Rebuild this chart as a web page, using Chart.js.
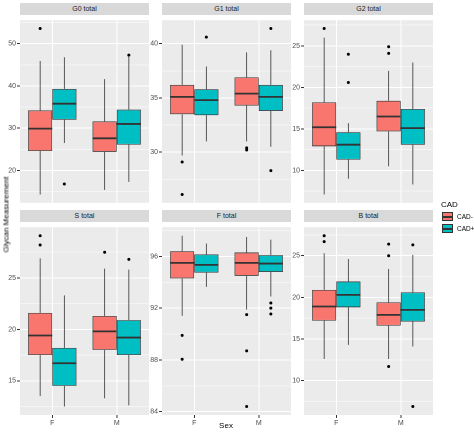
<!DOCTYPE html>
<html><head><meta charset="utf-8">
<script src="https://cdn.jsdelivr.net/npm/chart.js@4.4.0/dist/chart.umd.min.js"></script>
<style>
body{margin:0;width:474px;height:432px;background:#fff;position:relative;overflow:hidden;font-family:"Liberation Sans",Arial,sans-serif;}
canvas{position:absolute;}
.strip{position:absolute;background:#D9D9D9;color:#1A1A1A;font-size:7px;text-align:center;line-height:12px;height:12px;}
.t{position:absolute;color:#000;}
</style></head><body>
<script>
const categories = ['F','M'];
const seriesNames = ['CAD-','CAD+'];
const panelTitles = ['G0 total','G1 total','G2 total','S total','F total','B total'];
const tickSteps = [10,5,5,5,4,5];
// each box: [whiskerLow, q1, median, q3, whiskerHigh]; order F, M
const G0_neg = [[14.3,24.6,29.9,34.2,45.9],[15.4,24.4,27.6,31.6,41.6]];
const G0_pos = [[26.5,32.0,35.8,39.3,46.8],[17.3,26.1,31.0,34.4,46.9]];
const G0_out_neg = [[53.6],[]];
const G0_out_pos = [[16.8],[47.3]];
const G1_neg = [[29.7,33.5,35.1,36.2,39.9],[31.0,34.3,35.4,36.9,39.2]];
const G1_pos = [[31.0,33.4,34.8,35.8,37.9],[30.5,33.8,35.1,36.2,39.4]];
const G1_out_neg = [[29.1,26.1],[30.4,30.2]];
const G1_out_pos = [[40.6],[41.4,28.3]];
const G2_neg = [[7.1,12.9,15.2,18.2,26.0],[10.5,14.7,16.5,18.4,22.0]];
const G2_pos = [[9.0,11.3,13.1,14.6,15.7],[8.3,13.1,15.1,17.4,23.0]];
const G2_out_neg = [[27.1],[24.9,24.1]];
const G2_out_pos = [[24.0,20.6],[]];
const S_neg = [[13.5,17.5,19.4,21.6,26.9],[13.3,18.0,19.8,21.3,25.9]];
const S_pos = [[12.5,14.5,16.7,18.2,23.3],[12.6,17.5,19.2,20.9,25.8]];
const S_out_neg = [[29.1,28.2],[27.5]];
const S_out_pos = [[],[26.8]];
const F_neg = [[91.4,94.3,95.5,96.4,97.6],[91.9,94.5,95.5,96.3,97.5]];
const F_pos = [[93.65,94.75,95.35,96.15,97.0],[92.9,94.8,95.45,96.1,97.3]];
const F_out_neg = [[89.9,88.05],[91.5,88.7,84.4]];
const F_out_pos = [[],[92.4,92.0,91.55]];
const B_neg = [[12.6,17.2,18.9,20.9,25.3],[12.6,16.6,17.9,19.4,23.4]];
const B_pos = [[14.3,18.8,20.3,21.9,24.6],[14.1,17.1,18.5,20.6,25.1]];
const B_out_neg = [[27.4,26.7],[26.4,25.0,11.7]];
const B_out_pos = [[],[26.3,6.9]];

const panels = [
 [G0_neg,G0_pos,G0_out_neg,G0_out_pos],[G1_neg,G1_pos,G1_out_neg,G1_out_pos],[G2_neg,G2_pos,G2_out_neg,G2_out_pos],
 [S_neg,S_pos,S_out_neg,S_out_pos],[F_neg,F_pos,F_out_neg,F_out_pos],[B_neg,B_pos,B_out_neg,B_out_pos]];
const colors = ['#F8766D','#00BFC4'];
const colL = [20,162,304], plotW = 129, axW = 16;
const rowT = [15,222], plotH = 193, xAxH = 13;

const boxPlugin = {
 id:'box',
 afterDatasetsDraw(chart,args,opts){
  const ctx = chart.ctx, y = chart.scales.y, p = opts.panel;
  if(!p) return;
  ctx.save();
  [0,1].forEach(di=>{
   const meta = chart.getDatasetMeta(di);
   const stats = p[di], outs = p[di+2];
   meta.data.forEach((bar,i)=>{
    const s = stats[i], x = bar.x, hw = bar.width/2;
    ctx.strokeStyle='#333'; ctx.lineWidth=0.8;
    ctx.beginPath();
    ctx.moveTo(x,y.getPixelForValue(s[3])); ctx.lineTo(x,y.getPixelForValue(s[4]));
    ctx.moveTo(x,y.getPixelForValue(s[1])); ctx.lineTo(x,y.getPixelForValue(s[0]));
    ctx.stroke();
    ctx.lineWidth=1.8;
    ctx.beginPath(); const my=y.getPixelForValue(s[2]);
    ctx.moveTo(x-hw,my); ctx.lineTo(x+hw,my); ctx.stroke();
    ctx.fillStyle='#000';
    outs[i].forEach(v=>{ctx.beginPath();ctx.arc(x,y.getPixelForValue(v),1.5,0,Math.PI*2);ctx.fill();});
   });
  });
  ctx.restore();
 }
};
const bgPlugin = {id:'bg',beforeDraw(chart){const a=chart.chartArea,c=chart.ctx;c.save();c.fillStyle='#EBEBEB';c.fillRect(a.left,a.top,a.width,a.height);c.restore();}};

panels.forEach((p,k)=>{
 const r = Math.floor(k/3), c = k%3;
 const strip = document.createElement('div'); strip.className='strip';
 strip.style.left=colL[c]+'px'; strip.style.width=plotW+'px'; strip.style.top=(rowT[r]-12)+'px';
 strip.textContent=panelTitles[k]; document.body.appendChild(strip);
 const h = plotH + (r===1?xAxH:0);
 const wrap=document.createElement('div');wrap.style.cssText=`position:absolute;left:${colL[c]-axW}px;top:${rowT[r]}px;width:${plotW+axW}px;height:${h}px`;
 const cv = document.createElement('canvas');
 cv.width=plotW+axW; cv.height=h; cv.style.width=(plotW+axW)+'px'; cv.style.height=h+'px'; cv.style.left='0'; cv.style.top='0';
 wrap.appendChild(cv); document.body.appendChild(wrap);
 const all=[]; p[0].concat(p[1]).forEach(s=>all.push(...s)); p[2].concat(p[3]).forEach(o=>all.push(...o));
 const mn=Math.min(...all), mx=Math.max(...all), ex=(mx-mn)*0.05;
 const st=tickSteps[k];
 const isMajor=v=>Math.abs(v/st-Math.round(v/st))<1e-6;
 new Chart(cv,{
  type:'bar',
  data:{labels:categories,datasets:[0,1].map(di=>({label:seriesNames[di],
    data:p[di].map(s=>[s[1],s[3]]),backgroundColor:colors[di],borderColor:'#333',borderWidth:0.8,borderSkipped:false,
    categoryPercentage:0.75,barPercentage:1}))},
  options:{animation:false,responsive:false,devicePixelRatio:2,
   plugins:{legend:{display:false},tooltip:{enabled:false},box:{panel:p}},
   layout:{padding:0},
   scales:{
    x:{grid:{offset:false,color:'#fff',lineWidth:1,tickColor:'#333',tickLength:3,drawTicks:r===1},border:{display:false},
       ticks:{display:r===1,color:'#4D4D4D',font:{size:7},padding:1},
       afterFit(s){s.height=r===1?xAxH:0;}},
    y:{min:mn-ex,max:mx+ex,border:{display:false},
       afterBuildTicks(s){const t=[];for(let v=Math.ceil((mn-ex)/(st/2))*(st/2);v<=mx+ex;v+=st/2)t.push({value:+v.toFixed(4)});s.ticks=t;},
       grid:{color:'#fff',lineWidth:ctx=>isMajor(ctx.tick.value)?1:0.5,
         tickColor:ctx=>isMajor(ctx.tick.value)?'#333':'rgba(0,0,0,0)',tickLength:3},
       ticks:{color:'#4D4D4D',font:{size:7},padding:1,autoSkip:false,
         callback:v=>isMajor(v)?String(Math.round(v)):''},
       afterFit(s){s.width=axW;}}
   }},
  plugins:[bgPlugin,boxPlugin]
 });
});
function txt(s,css){const d=document.createElement('div');d.className='t';d.style.cssText=css;d.textContent=s;document.body.appendChild(d);}
txt('Glycan Measurement','left:-44px;top:210px;width:100px;text-align:center;font-size:8px;transform:rotate(-90deg);');
txt('Sex','left:214px;top:421px;width:24px;text-align:center;font-size:8px;');
txt('CAD','left:441px;top:200px;font-size:8px;');
[0,1].forEach(i=>{
 const b=document.createElement('div');b.style.cssText=`position:absolute;left:442px;top:${212+i*12}px;width:11px;height:9px;background:${colors[i]};border:0.8px solid #333;box-sizing:border-box;`;
 const m=document.createElement('div');m.style.cssText='position:absolute;left:0;top:3px;width:100%;height:1.5px;background:#333';b.appendChild(m);
 document.body.appendChild(b);
 txt(seriesNames[i],`left:457px;top:${212+i*12}px;font-size:6.5px;line-height:9px;`);
});
</script>
</body></html>
